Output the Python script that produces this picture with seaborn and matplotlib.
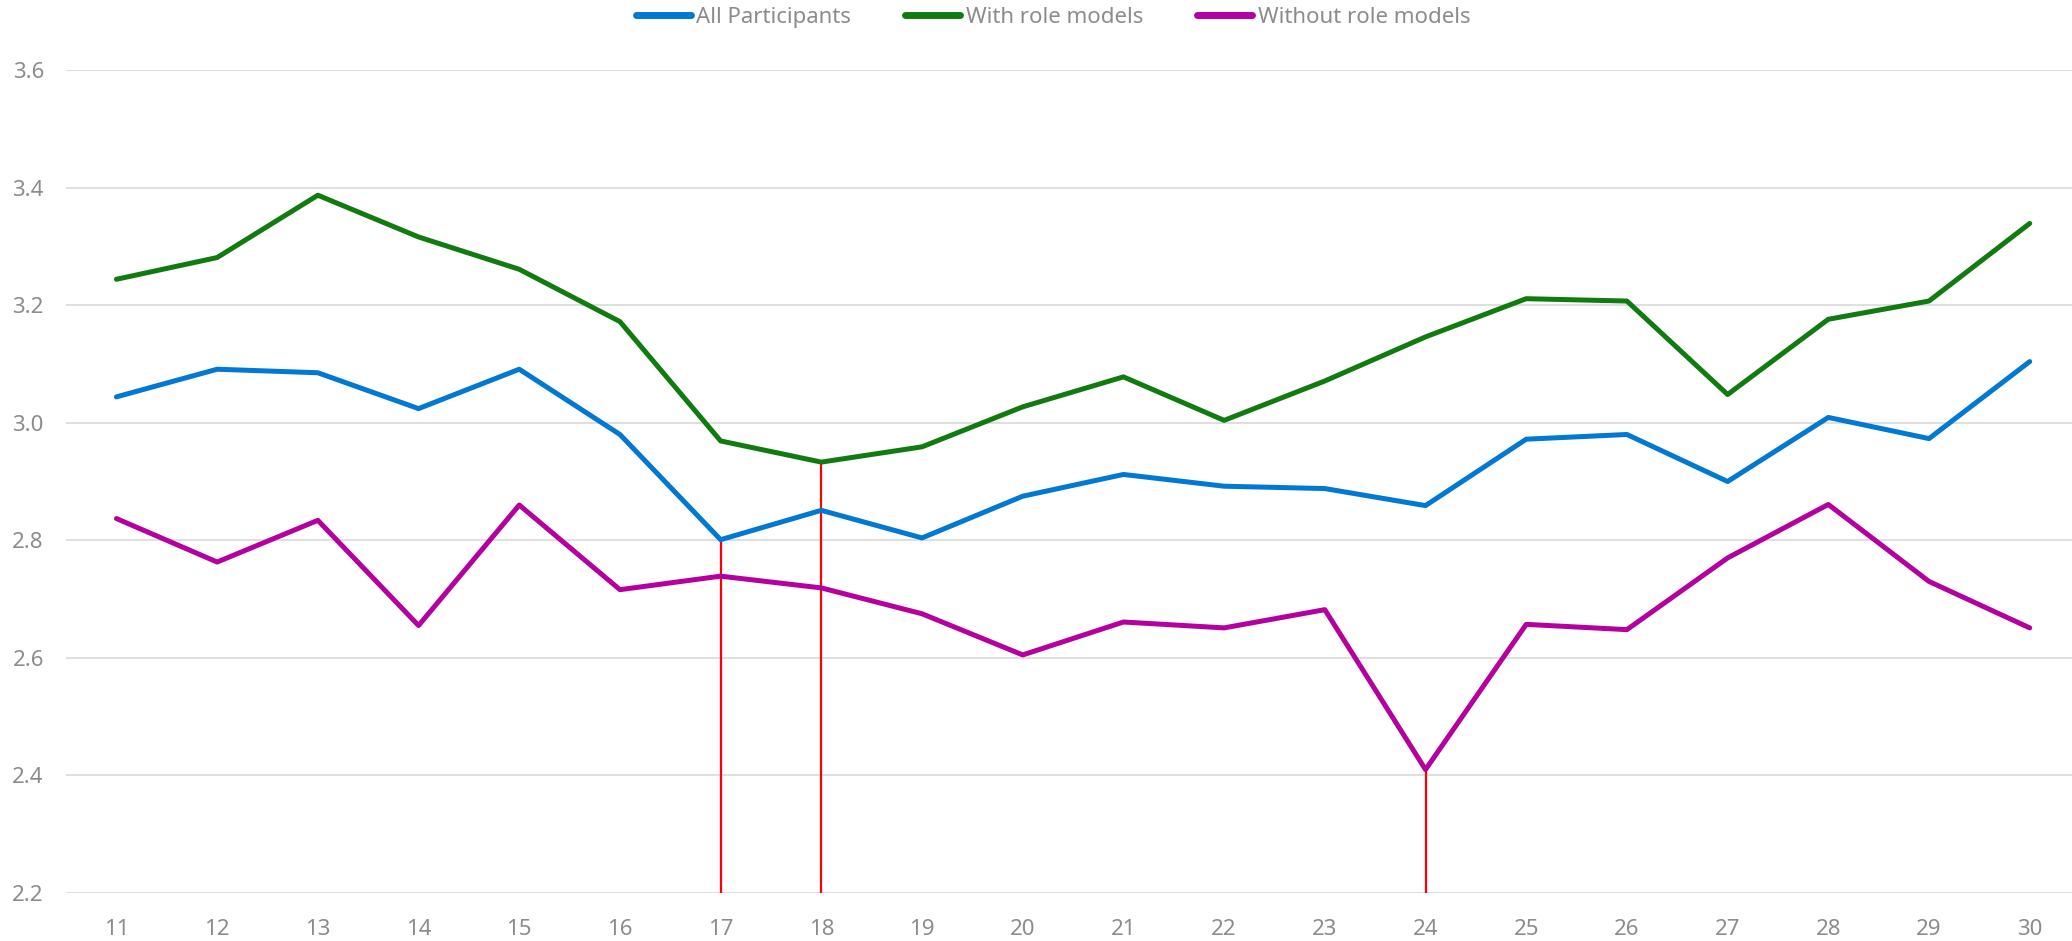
import matplotlib
matplotlib.use("Agg")
import matplotlib.pyplot as plt
import numpy as np
import pandas as pd
import seaborn as sns

# Data
ages = list(range(11, 31))
all_participants = [3.044, 3.091, 3.085, 3.024, 3.091, 2.980, 2.801, 2.851, 2.804, 2.875,
                    2.912, 2.892, 2.888, 2.859, 2.972, 2.980, 2.900, 3.009, 2.973, 3.104]
with_role = [3.244, 3.281, 3.387, 3.316, 3.261, 3.172, 2.969, 2.933, 2.959, 3.027,
             3.078, 3.004, 3.071, 3.146, 3.211, 3.207, 3.048, 3.176, 3.207, 3.339]
without_role = [2.837, 2.763, 2.834, 2.655, 2.860, 2.716, 2.739, 2.719, 2.675, 2.605,
                2.661, 2.651, 2.682, 2.410, 2.657, 2.648, 2.770, 2.861, 2.730, 2.651]

series_names = ["All Participants", "With role models", "Without role models"]
series_colors = ["#0078d4", "#107c10", "#b4009e"]
y_ticks = [2.2, 2.4, 2.6, 2.8, 3.0, 3.2, 3.4, 3.6]

# red markers: (age, series the line reaches up to)
markers = [(17, "All Participants"), (18, "With role models"), (24, "Without role models")]

TEXT_GRAY = "#8c8c8c"
GRID_GRAY = "#dcdcdc"


def build_frame():
    frames = []
    for name, values in zip(series_names, [all_participants, with_role, without_role]):
        frames.append(pd.DataFrame({"age": ages, "score": values, "group": name}))
    return pd.concat(frames, ignore_index=True)


def main():
    df = build_frame()
    sns.set_style("white")
    plt.rcParams["font.family"] = ["Noto Sans", "DejaVu Sans"]

    fig = plt.figure(figsize=(20.72, 9.41), dpi=100)
    ax = fig.add_axes([0.0319, 0.0510, 0.9681, 0.8746])

    # red vertical lines from the axis floor to the chosen series
    for age, name in markers:
        top = df.loc[(df["age"] == age) & (df["group"] == name), "score"].iloc[0]
        ax.vlines(age, 2.2, top, color="red", linewidth=1.6, zorder=1)

    sns.lineplot(
        data=df,
        x="age",
        y="score",
        hue="group",
        hue_order=series_names,
        palette=series_colors,
        linewidth=3.6,
        ax=ax,
        zorder=3,
        solid_capstyle="round",
        solid_joinstyle="round",
    )

    ax.set_xlim(10.5, 30.42)
    ax.set_ylim(2.2, 3.6)
    ax.set_xticks(ages)
    ax.set_xticklabels([str(a) for a in ages])
    ax.set_yticks(y_ticks)
    ax.set_yticklabels([f"{v:.1f}" for v in y_ticks])
    ax.yaxis.grid(True, color=GRID_GRAY, linewidth=1.3, zorder=0)
    ax.xaxis.grid(False)
    ax.set_axisbelow(True)
    for spine in ax.spines.values():
        spine.set_visible(False)
    ax.tick_params(axis="both", length=0, labelsize=16, labelcolor=TEXT_GRAY)
    ax.tick_params(axis="y", pad=16)
    ax.tick_params(axis="x", pad=19)
    ax.set_xlabel("")
    ax.set_ylabel("")

    handles, labels = ax.get_legend_handles_labels()
    ax.get_legend().remove()
    leg = fig.legend(
        handles,
        labels,
        loc="center",
        bbox_to_anchor=(0.5082, 0.9814),
        ncol=3,
        frameon=False,
        fontsize=16,
        handlelength=2.48,
        handletextpad=0.23,
        columnspacing=2.45,
        borderaxespad=0,
    )
    for text in leg.get_texts():
        text.set_color(TEXT_GRAY)
    for line in leg.get_lines():
        line.set_linewidth(5)
        line.set_solid_capstyle("round")

    fig.savefig("out.png", dpi=100)
    plt.close(fig)


if __name__ == "__main__":
    main()
